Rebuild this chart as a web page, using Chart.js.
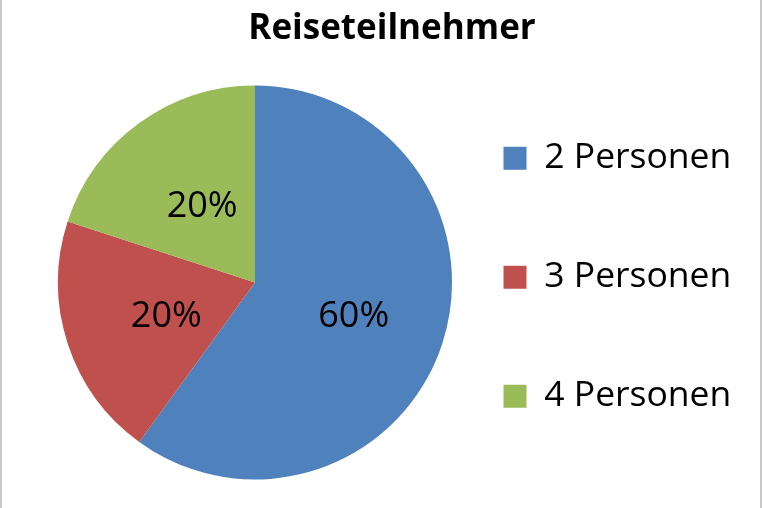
<!DOCTYPE html>
<html>
<head>
<meta charset="utf-8">
<script src="https://cdn.jsdelivr.net/npm/chart.js@4"></script>
<style>
  html, body { margin: 0; padding: 0; background: #fff; }
  #wrap { width: 762px; height: 508px; box-sizing: border-box; border-left: 2px solid #c8c8c8; border-right: 2px solid #c8c8c8; position: relative; }
</style>
</head>
<body>
<div id="wrap"><canvas id="pieChart"></canvas></div>
<script>
const categories = ['2 Personen', '3 Personen', '4 Personen'];
const shares = [60, 20, 20];
const colors = ['#4F81BD', '#C0504D', '#9BBB59'];

// writes the percentage in the middle of every slice
const sliceLabels = {
    id: 'sliceLabels',
    afterDatasetsDraw(chart) {
        const ctx = chart.ctx;
        const meta = chart.getDatasetMeta(0);
        ctx.save();
        ctx.font = '36px "Open Sans"';
        ctx.fillStyle = '#000';
        ctx.textAlign = 'center';
        ctx.textBaseline = 'middle';
        meta.data.forEach((arc, i) => {
            const pos = arc.tooltipPosition();
            ctx.fillText(shares[i] + '%', pos.x + 5, pos.y + 4);
        });
        ctx.restore();
    }
};

// legend is kept narrow for the layout, but its text may run to the canvas edge;
// it also sits a bit lower than Chart.js puts it
const wideLegend = {
    id: 'wideLegend',
    afterLayout(chart) {
        const lg = chart.legend;
        lg.right = chart.width;
        lg.left -= 3;
        lg.top += 57;
        lg.bottom += 57;
    }
};

const pieChart = document.getElementById('pieChart');

new Chart(pieChart, {
    type: 'pie',
    data: {
        labels: categories,
        datasets: [{
            data: shares,
            backgroundColor: colors,
            borderWidth: 0,
            radius: 197,
            clip: false
        }]
    },
    options: {
        responsive: true,
        maintainAspectRatio: false,
        animation: false,
        layout: { padding: { top: 0, bottom: -7, left: 85, right: 63 } },
        plugins: {
            title: {
                display: true,
                text: 'Reiseteilnehmer',
                color: '#000',
                font: { family: 'Open Sans', size: 35, weight: 'bold' },
                padding: { top: 8, bottom: 7 }
            },
            legend: {
                position: 'right',
                align: 'start',
                maxWidth: 274,
                labels: {
                    color: '#000',
                    font: { family: 'Open Sans', size: 35.5 },
                    boxWidth: 23,
                    boxHeight: 23,
                    padding: 83.5
                }
            },
            tooltip: { enabled: false }
        }
    },
    plugins: [sliceLabels, wideLegend]
});
</script>
</body>
</html>
